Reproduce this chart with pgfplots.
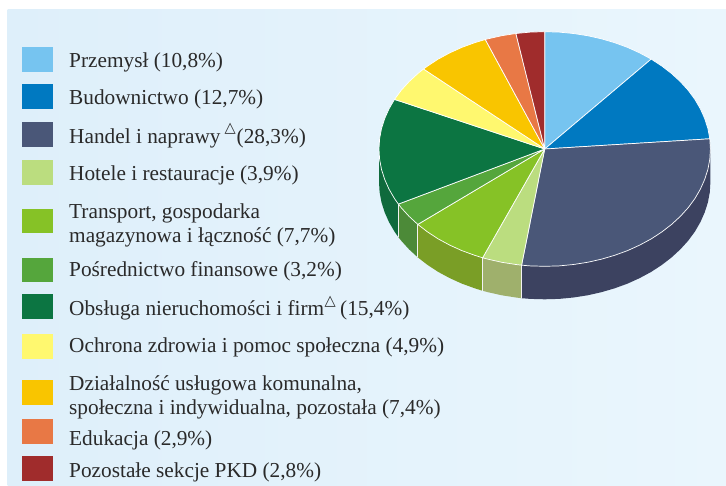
\documentclass[border=0pt]{standalone}
\usepackage{fontspec}
\setmainfont{Liberation Serif}
\newfontfamily\sym{DejaVu Sans}
\usepackage{pgfplots}
\pgfplotsset{compat=1.18}

\definecolor{bgL}{HTML}{DEEFFA}
\definecolor{bgR}{HTML}{EAF6FD}
\definecolor{cPrzem}{HTML}{76C4F0}
\definecolor{cBud}{HTML}{0079C1}
\definecolor{cHandel}{HTML}{4A5778}
\definecolor{cHandelW}{HTML}{3C4260}
\definecolor{cHotel}{HTML}{BBDD7F}
\definecolor{cHotelW}{HTML}{9FB06C}
\definecolor{cTrans}{HTML}{86C226}
\definecolor{cTransW}{HTML}{7A9E26}
\definecolor{cPosr}{HTML}{55A63C}
\definecolor{cPosrW}{HTML}{4C8A38}
\definecolor{cObsl}{HTML}{0C7542}
\definecolor{cObslW}{HTML}{0F6A3C}
\definecolor{cOchr}{HTML}{FFF86F}
\definecolor{cDzial}{HTML}{F9C500}
\definecolor{cEduk}{HTML}{E87845}
\definecolor{cPoz}{HTML}{A02C2C}
\definecolor{txt}{HTML}{2A2A2A}

\pgfplotsset{
  wedge/.style={fill=#1,draw=white,line width=0.7pt,line join=round},
  wall/.style={fill=#1,draw=none},
  swatch/.style={fill=#1,draw=none},
  sep/.style={draw=white!90!gray,line width=0.7pt},
}
\tikzset{lab/.style={anchor=base west,inner sep=0pt,text=txt,font=\fontsize{21.3}{24}\selectfont}}

\begin{document}
\begin{tikzpicture}
\begin{axis}[
  hide axis,
  scale only axis,
  width=726pt,
  height=486pt,
  xmin=0, xmax=726,
  ymin=0, ymax=486,
  y dir=reverse,
  clip=false,
]
% page corners, keeps the white margin inside the picture
\addplot[fill=white,draw=none] coordinates {(0,0)(726,0)(726,486)(0,486)(0,0)};
% panel
\addplot[draw=none,left color=bgL,right color=bgR] coordinates {(7.5,9.5)(726,9.5)(726,486)(7.5,486)(7.5,9.5)};

% side walls
\addplot[wall=cHandelW] coordinates {(710.4,149)(710.4,182)(709.8,192.2)(707.9,202.4)(704.7,212.4)(700.4,222.1)(694.9,231.6)(688.2,240.7)(680.4,249.3)(671.6,257.4)(661.9,264.9)(651.2,271.9)(639.7,278.1)(627.6,283.6)(614.7,288.3)(601.4,292.2)(587.6,295.3)(573.5,297.5)(559.1,298.9)(544.7,299.3)(530.3,298.9)(521.6,298.2)(521.6,265.2)(544.7,149)};
\addplot[wall=cHotelW] coordinates {(521.6,265.2)(521.6,298.2)(515.9,297.5)(501.8,295.3)(488.0,292.2)(482.6,290.8)(482.6,257.8)(544.7,149)};
\addplot[wall=cTransW] coordinates {(482.6,257.8)(482.6,290.8)(474.7,288.3)(461.8,283.6)(449.7,278.1)(438.2,271.9)(427.5,264.9)(417.8,257.4)(417.8,224.4)(544.7,149)};
\addplot[wall=cPosrW] coordinates {(417.8,224.4)(417.8,257.4)(409.0,249.3)(401.2,240.7)(398.4,237.1)(398.4,204.1)(544.7,149)};
\addplot[wall=cObslW] coordinates {(398.4,204.1)(398.4,237.1)(394.5,231.6)(389.0,222.1)(384.7,212.4)(381.5,202.4)(379.6,192.2)(379.0,182)(379.0,149)(544.7,149)};
\addplot[sep] coordinates {(521.6,265.2)(521.6,298.2)};
\addplot[sep] coordinates {(482.6,257.8)(482.6,290.8)};
\addplot[sep] coordinates {(417.8,224.4)(417.8,257.4)};
\addplot[sep] coordinates {(398.4,204.1)(398.4,237.1)};

% top faces
\addplot[wedge=cPrzem] coordinates {(544.7,149)(544.7,31.7)(559.1,32.1)(573.5,33.5)(587.6,35.7)(601.4,38.8)(614.7,42.7)(627.6,47.4)(639.7,52.9)(651.2,59.1)(544.7,149)};
\addplot[wedge=cBud] coordinates {(544.7,149)(651.2,59.1)(661.9,66.1)(671.6,73.6)(680.4,81.7)(688.2,90.3)(694.9,99.4)(700.4,108.9)(704.7,118.6)(707.9,128.6)(709.8,138.8)(544.7,149)};
\addplot[wedge=cHandel] coordinates {(544.7,149)(709.8,138.8)(710.4,149)(709.8,159.2)(707.9,169.4)(704.7,179.4)(700.4,189.1)(694.9,198.6)(688.2,207.7)(680.4,216.3)(671.6,224.4)(661.9,231.9)(651.2,238.9)(639.7,245.1)(627.6,250.6)(614.7,255.3)(601.4,259.2)(587.6,262.3)(573.5,264.5)(559.1,265.9)(544.7,266.3)(530.3,265.9)(521.6,265.2)(544.7,149)};
\addplot[wedge=cHotel] coordinates {(544.7,149)(521.6,265.2)(515.9,264.5)(501.8,262.3)(488.0,259.2)(482.6,257.8)(544.7,149)};
\addplot[wedge=cTrans] coordinates {(544.7,149)(482.6,257.8)(474.7,255.3)(461.8,250.6)(449.7,245.1)(438.2,238.9)(427.5,231.9)(417.8,224.4)(544.7,149)};
\addplot[wedge=cPosr] coordinates {(544.7,149)(417.8,224.4)(409.0,216.3)(401.2,207.7)(398.4,204.1)(544.7,149)};
\addplot[wedge=cObsl] coordinates {(544.7,149)(398.4,204.1)(394.5,198.6)(389.0,189.1)(384.7,179.4)(381.5,169.4)(379.6,159.2)(379.0,149)(379.6,138.8)(381.5,128.6)(384.7,118.6)(389.0,108.9)(394.5,99.4)(544.7,149)};
\addplot[wedge=cOchr] coordinates {(544.7,149)(394.5,99.4)(401.2,90.3)(409.0,81.7)(417.8,73.6)(423.5,69.0)(544.7,149)};
\addplot[wedge=cDzial] coordinates {(544.7,149)(423.5,69.0)(427.5,66.1)(438.2,59.1)(449.7,52.9)(461.8,47.4)(474.7,42.7)(485.3,39.5)(544.7,149)};
\addplot[wedge=cEduk] coordinates {(544.7,149)(485.3,39.5)(488.0,38.8)(501.8,35.7)(515.9,33.5)(544.7,149)};
\addplot[wedge=cPoz] coordinates {(544.7,149)(515.9,33.5)(530.3,32.1)(544.7,31.7)(544.7,149)};

% legend swatches
\addplot[swatch=cPrzem] coordinates {(22,47)(53,47)(53,72)(22,72)};
\addplot[swatch=cBud] coordinates {(22,84)(53,84)(53,109)(22,109)};
\addplot[swatch=cHandel] coordinates {(22,122)(53,122)(53,147)(22,147)};
\addplot[swatch=cHotel] coordinates {(22,160)(53,160)(53,185)(22,185)};
\addplot[swatch=cTrans] coordinates {(22,209)(53,209)(53,233)(22,233)};
\addplot[swatch=cPosr] coordinates {(22,258)(53,258)(53,282)(22,282)};
\addplot[swatch=cObsl] coordinates {(22,294)(53,294)(53,319)(22,319)};
\addplot[swatch=cOchr] coordinates {(22,334)(53,334)(53,359)(22,359)};
\addplot[swatch=cDzial] coordinates {(22,380)(53,380)(53,405)(22,405)};
\addplot[swatch=cEduk] coordinates {(22,419)(53,419)(53,444)(22,444)};
\addplot[swatch=cPoz] coordinates {(22,456)(53,456)(53,481)(22,481)};

% legend text
\node[lab] at (axis cs:69,67.7) {Przemysł (10,8\%)};
\node[lab] at (axis cs:69,105) {Budownictwo (12,7\%)};
\node[lab] at (axis cs:69,143.3) {Handel i naprawy};
\node[lab,font=\sym\fontsize{14.5}{16}\selectfont] at (axis cs:224.5,133) {△};
\node[lab] at (axis cs:236.5,143.3) {(28,3\%)};
\node[lab] at (axis cs:69,181) {Hotele i restauracje (3,9\%)};
\node[lab] at (axis cs:69,218.3) {Transport, gospodarka};
\node[lab] at (axis cs:69,243) {magazynowa i łączność (7,7\%)};
\node[lab] at (axis cs:69,277) {Pośrednictwo finansowe (3,2\%)};
\node[lab] at (axis cs:69,315.3) {Obsługa nieruchomości i firm};
\node[lab,font=\sym\fontsize{14.5}{16}\selectfont] at (axis cs:324.5,306) {△};
\node[lab] at (axis cs:340,315.3) {(15,4\%)};
\node[lab] at (axis cs:69,353) {Ochrona zdrowia i pomoc społeczna (4,9\%)};
\node[lab] at (axis cs:69,390.3) {Działalność usługowa komunalna,};
\node[lab] at (axis cs:69,414.7) {społeczna i indywidualna, pozostała (7,4\%)};
\node[lab] at (axis cs:69,445.3) {Edukacja (2,9\%)};
\node[lab] at (axis cs:69,477.3) {Pozostałe sekcje PKD (2,8\%)};
\end{axis}
\end{tikzpicture}
\end{document}
